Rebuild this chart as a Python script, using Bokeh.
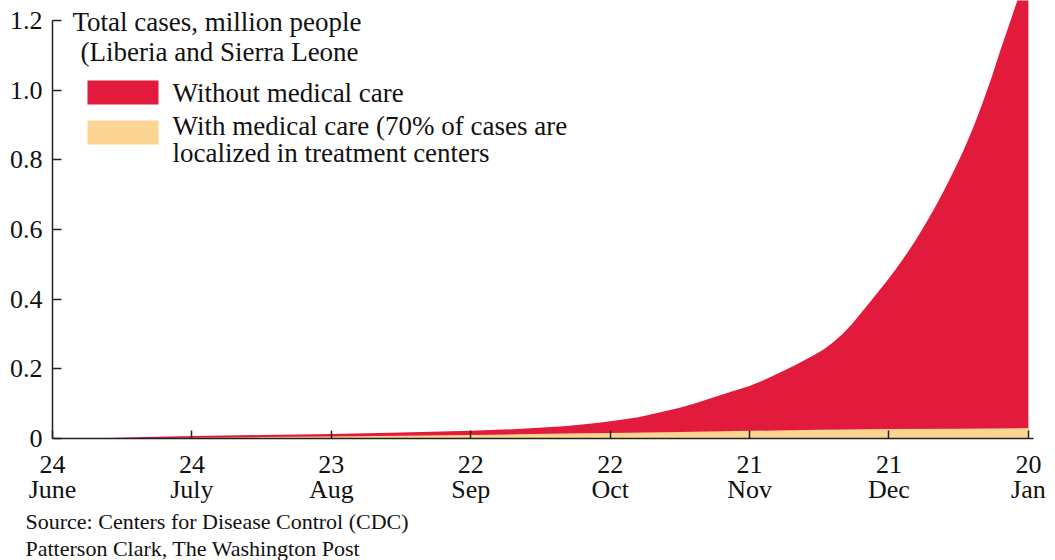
from bokeh.plotting import figure
from bokeh.models import Range1d, Label, BoxAnnotation, FixedTicker, Title
from bokeh.embed import file_html
from bokeh.resources import INLINE

# ---- data (days since 24 June) ----
red_days = [0, 10, 20, 30, 45, 60, 75, 90, 100, 110, 114, 118, 122, 126, 128, 131, 135, 138,
            142, 146, 150, 153, 156, 158, 160, 162, 164, 166, 168, 170, 172, 174, 176, 178,
            180, 182, 184, 186, 188, 190, 192, 194, 196, 198, 200, 202, 204, 206, 208, 210]
red_vals = [0.0, 0.001, 0.004, 0.007, 0.010, 0.013, 0.017, 0.022, 0.027, 0.035, 0.040, 0.046,
            0.053, 0.061, 0.067, 0.076, 0.088, 0.100, 0.117, 0.134, 0.151, 0.167, 0.186, 0.199,
            0.212, 0.226, 0.240, 0.256, 0.276, 0.300, 0.328, 0.360, 0.393, 0.426, 0.460, 0.496,
            0.534, 0.575, 0.619, 0.666, 0.716, 0.769, 0.826, 0.888, 0.958, 1.033, 1.115, 1.193,
            1.272, 1.350]
yel_days = [0, 10, 20, 30, 45, 60, 75, 90, 100, 110, 120, 135, 150, 165, 180, 195, 210]
yel_vals = [0.0, 0.0005, 0.001, 0.002, 0.004, 0.006, 0.008, 0.010, 0.012, 0.014, 0.016,
            0.019, 0.022, 0.025, 0.027, 0.028, 0.030]
x_tick_days = [0, 30, 60, 90, 120, 150, 180, 210]
x_tick_labels = ["24\nJune", "24\nJuly", "23\nAug", "22\nSep", "22\nOct", "21\nNov", "21\nDec", "20\nJan"]
y_ticks = [0, 0.2, 0.4, 0.6, 0.8, 1.0, 1.2]
y_tick_labels = ["0", "0.2", "0.4", "0.6", "0.8", "1.0", "1.2"]

RED = "#E21B3D"
YEL = "#FDD592"
AX = "#222222"
FONT = "Liberation Serif"

p = figure(width=1055, height=560, output_backend="svg", toolbar_location=None,
           x_range=Range1d(0, 211.1), y_range=Range1d(0, 1.257),
           min_border_left=52, min_border_right=22, min_border_top=0, min_border_bottom=0)
p.outline_line_color = None
p.grid.visible = False
p.background_fill_color = "white"
p.border_fill_color = "white"

p.varea(x=red_days, y1=[0] * len(red_days), y2=red_vals, fill_color=RED)
p.varea(x=yel_days, y1=[0] * len(yel_days), y2=yel_vals, fill_color=YEL)

xa = p.xaxis[0]
xa.ticker = FixedTicker(ticks=x_tick_days)
xa.major_label_overrides = {d: l for d, l in zip(x_tick_days, x_tick_labels)}
xa.minor_tick_line_color = None
xa.major_tick_in = 8
xa.major_tick_out = 0
xa.axis_line_color = AX
xa.axis_line_width = 1.5
xa.major_tick_line_color = AX
xa.major_tick_line_width = 1.5
xa.major_label_text_font = FONT
xa.major_label_text_font_size = "26px"
xa.major_label_text_line_height = 0.87
xa.major_label_text_color = "#111111"
xa.major_label_standoff = 11

ya = p.yaxis[0]
ya.ticker = FixedTicker(ticks=y_ticks)
ya.major_label_overrides = {t: l for t, l in zip(y_ticks, y_tick_labels)}
ya.bounds = (0, 1.2)
ya.minor_tick_line_color = None
ya.major_tick_in = 9
ya.major_tick_out = 0
ya.axis_line_color = AX
ya.axis_line_width = 1.5
ya.major_tick_line_color = AX
ya.major_tick_line_width = 1.5
ya.major_label_text_font = FONT
ya.major_label_text_font_size = "26px"
ya.major_label_text_color = "#111111"
ya.major_label_standoff = 10

# ---- source lines below the axis ----
for txt in ["Source: Centers for Disease Control (CDC)", "Patterson Clark, The Washington Post"]:
    p.add_layout(Title(text=txt, align="left", offset=-27, text_font=FONT,
                       text_font_size="22px", text_font_style="normal",
                       text_line_height=0.9, text_color="#111111", standoff=0), "below")

# ---- title / legend (screen units, relative to frame bottom-left) ----
FB = 440  # frame bottom in canvas px
FL = 52   # frame left in canvas px

def lab(text, cx, cy, size):
    p.add_layout(Label(x=cx - FL, y=FB - cy, x_units="screen", y_units="screen", text=text,
                       text_font=FONT, text_font_size=size, text_color="#111111",
                       text_baseline="middle", text_align="left"))

lab("Total cases, million people", 72, 23, "27px")
lab("(Liberia and Sierra Leone", 80, 53, "27px")

p.add_layout(BoxAnnotation(left=87 - FL, right=158 - FL, top=FB - 82, bottom=FB - 106,
                           left_units="screen", right_units="screen", top_units="screen",
                           bottom_units="screen", fill_color=RED, fill_alpha=1, line_color=None))
p.add_layout(BoxAnnotation(left=87 - FL, right=158 - FL, top=FB - 122, bottom=FB - 146,
                           left_units="screen", right_units="screen", top_units="screen",
                           bottom_units="screen", fill_color=YEL, fill_alpha=1, line_color=None))
lab("Without medical care", 172, 94, "27px")
lab("With medical care (70% of cases are", 172, 127, "27px")
lab("localized in treatment centers", 172, 154, "27px")

open("out.html", "w").write(file_html(p, INLINE))
